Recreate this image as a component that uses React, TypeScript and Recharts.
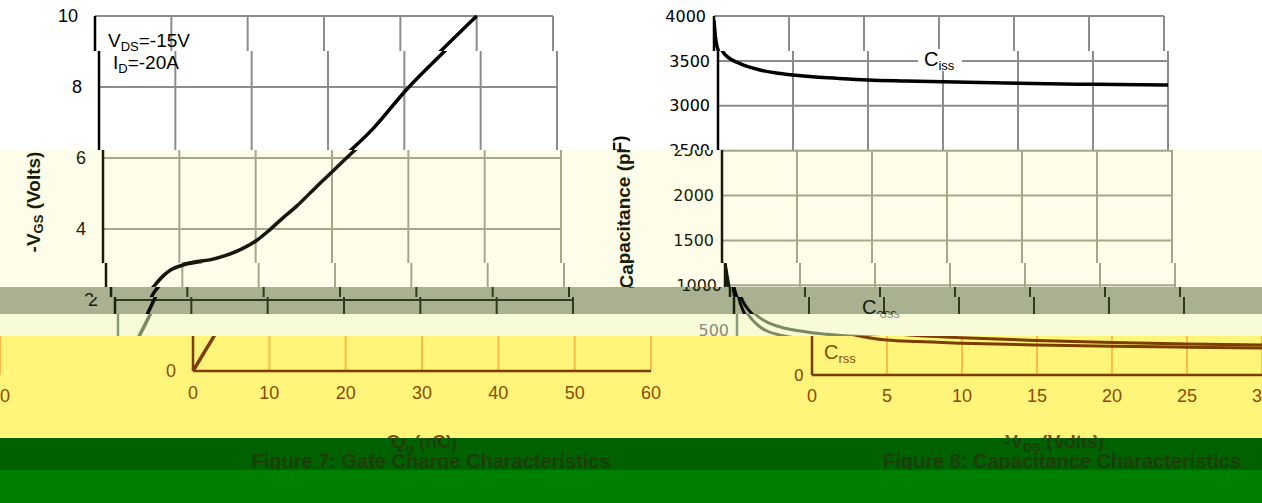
import React from 'react';
import { LineChart, Line, XAxis, YAxis, CartesianGrid } from 'recharts';

// ---- Figure 7: gate charge ----
const qgCharge = [0, 1.4, 2.8, 4.3, 5.6, 6.4, 7.5, 8.5, 10, 12, 14, 16, 18, 20.2, 21.8, 23.5, 25.3, 28, 31.9, 36, 40.3, 45, 50];
const vgsVolts = [0, 0.5, 1.0, 1.63, 2.2, 2.42, 2.68, 2.85, 2.98, 3.07, 3.13, 3.25, 3.42, 3.69, 3.97, 4.3, 4.63, 5.2, 6.0, 6.85, 7.93, 8.95, 10];
const gateXTicks = [0, 10, 20, 30, 40, 50, 60];
const gateYTicks = [0, 2, 4, 6, 8, 10];

// ---- Figure 8: capacitance ----
const cissVds = [0, 0.1, 0.3, 0.75, 1.4, 2, 2.8, 4, 5, 6.5, 8, 10, 12.5, 15, 20, 25, 30];
const cissPf = [3950, 3760, 3610, 3530, 3475, 3435, 3398, 3362, 3342, 3320, 3305, 3288, 3277, 3268, 3250, 3239, 3230];
const cossVds = [0, 0.1, 0.3, 0.6, 1, 1.5, 2, 3, 4, 5, 7, 10, 15, 20, 25, 30];
const cossPf = [1250, 1150, 960, 820, 720, 640, 590, 530, 495, 470, 440, 415, 385, 362, 345, 333];
const crssVds = [0, 0.1, 0.3, 0.6, 1, 1.5, 2, 3, 4, 5, 7, 10, 15, 20, 25, 30];
const crssPf = [1250, 1100, 880, 720, 620, 540, 490, 440, 410, 390, 372, 355, 335, 320, 310, 302];
const capXTicks = [0, 5, 10, 15, 20, 25, 30];
const capYTicks = [0, 500, 1000, 1500, 2000, 2500, 3000, 3500, 4000];

const gateData = qgCharge.map((q, i) => ({ q, v: vgsVolts[i] }));
const cissData = cissVds.map((v, i) => ({ v, c: cissPf[i] }));
const cossData = cossVds.map((v, i) => ({ v, c: cossPf[i] }));
const crssData = crssVds.map((v, i) => ({ v, c: crssPf[i] }));

type Theme = { bg: string; grid: string; axis: string; line: string; tick: string; text: string };

const THEMES: Record<string, Theme> = {
  white: { bg: '#ffffff', grid: '#8c8c8c', axis: '#000000', line: '#000000', tick: '#000000', text: '#000000' },
  cream: { bg: '#fdfde9', grid: '#a4a88b', axis: '#1b1d0c', line: '#15170a', tick: '#1b1d0c', text: '#1b1d0c' },
  olive: { bg: '#a9b191', grid: '#2d3a1f', axis: '#1a2210', line: '#0a0a05', tick: '#141a0b', text: '#141a0b' },
  pale: { bg: '#f7fbd7', grid: '#f7fbd7', axis: '#8a9a7a', line: '#7a8a67', tick: '#8a8a86', text: '#8a9486' },
  yellow: { bg: '#fff57a', grid: '#ffbb48', axis: '#7c3d00', line: '#7c3d00', tick: '#8a4a05', text: '#8a4a05' },
  dkgreen: { bg: '#006100', grid: '#006100', axis: '#006100', line: '#006100', tick: '#1d3d08', text: '#1d3d08' },
  green: { bg: '#008000', grid: '#008000', axis: '#008000', line: '#008000', tick: '#008000', text: '#008000' },
};

const BANDS = [
  { y0: 0, y1: 51, dx: 0, theme: 'white' },
  { y0: 51, y1: 150, dx: 4, theme: 'white' },
  { y0: 150, y1: 263, dx: 8, theme: 'cream' },
  { y0: 263, y1: 287, dx: 11, theme: 'cream' },
  { y0: 287, y1: 297, dx: 16, theme: 'olive' },
  { y0: 297, y1: 314, dx: 20, theme: 'olive' },
  { y0: 314, y1: 336, dx: 23, theme: 'pale' },
  { y0: 336, y1: 438, dx: 98, theme: 'yellow' },
  { y0: 438, y1: 470, dx: 103, theme: 'dkgreen' },
  { y0: 470, y1: 503, dx: 103, theme: 'green' },
];

const SANS = 'Liberation Sans, Arial, sans-serif';
const WIDE = 'DejaVu Sans, sans-serif';

function Figure({ t }: { t: Theme }) {
  const axisLine = { stroke: t.axis, strokeWidth: 2.5 };
  return (
    <div style={{ position: 'absolute', left: 0, top: 0, width: 1262, height: 503 }}>
      <div style={{ position: 'absolute', left: 0, top: 0 }}>
        <LineChart width={620} height={420} data={gateData} margin={{ top: 16, right: 67, bottom: 19, left: 0 }}>
          <CartesianGrid stroke={t.grid} strokeWidth={2} />
          <XAxis
            type="number"
            dataKey="q"
            domain={[0, 60]}
            ticks={gateXTicks}
            interval={0}
            height={30}
            tickLine={false}
            tickSize={0}
            tickMargin={15}
            axisLine={axisLine}
            tick={{ fill: t.tick, fontSize: 18, fontFamily: SANS }}
          />
          <YAxis
            type="number"
            domain={[0, 10]}
            ticks={gateYTicks}
            interval={0}
            width={95}
            tickLine={false}
            tickSize={0}
            tickMargin={17}
            axisLine={axisLine}
            tick={{ fill: t.tick, fontSize: 18, fontFamily: SANS }}
          />
          <Line type="monotone" dataKey="v" stroke={t.line} strokeWidth={3.5} dot={false} isAnimationActive={false} />
        </LineChart>
      </div>
      <div style={{ position: 'absolute', left: 620, top: 0 }}>
        <LineChart width={600} height={420} margin={{ top: 16, right: 56, bottom: 15, left: 0 }}>
          <CartesianGrid stroke={t.grid} strokeWidth={2} />
          <XAxis
            type="number"
            dataKey="v"
            domain={[0, 30]}
            ticks={capXTicks}
            interval={0}
            height={30}
            tickLine={false}
            tickSize={0}
            tickMargin={14}
            axisLine={axisLine}
            allowDataOverflow
            tick={{ fill: t.tick, fontSize: 18, fontFamily: SANS }}
          />
          <YAxis
            type="number"
            domain={[0, 4000]}
            ticks={capYTicks}
            interval={0}
            width={94}
            tickLine={false}
            tickSize={0}
            tickMargin={8}
            axisLine={axisLine}
            allowDataOverflow
            tick={{ fill: t.tick, fontSize: 16, fontFamily: WIDE }}
          />
          <Line data={cissData} type="monotone" dataKey="c" stroke={t.line} strokeWidth={3.5} dot={false} isAnimationActive={false} />
          <Line data={cossData} type="monotone" dataKey="c" stroke={t.line} strokeWidth={3} dot={false} isAnimationActive={false} />
          <Line data={crssData} type="monotone" dataKey="c" stroke={t.line} strokeWidth={3} dot={false} isAnimationActive={false} />
        </LineChart>
      </div>
      <svg width={1262} height={503} style={{ position: 'absolute', left: 0, top: 0 }} fontFamily={SANS}>
        <text x={108} y={46.5} fill={t.text} fontSize={19}>
          V<tspan fontSize={13} dy={4}>DS</tspan><tspan dy={-4}>=-15V</tspan>
        </text>
        <text x={109} y={68.5} fill={t.text} fontSize={19}>
          I<tspan fontSize={13} dy={4}>D</tspan><tspan dy={-4}>=-20A</tspan>
        </text>
        <text transform="translate(32,202) rotate(-90)" textAnchor="middle" fill={t.text} fontSize={19} fontWeight="bold">
          -V<tspan fontSize={13} dy={3}>GS</tspan><tspan dy={-3}> (Volts)</tspan>
        </text>
        <text transform="translate(622,212) rotate(-90)" textAnchor="middle" fill={t.text} fontSize={19} fontWeight="bold">
          Capacitance (pF)
        </text>
        <rect x={914} y={49} width={44} height={22} fill={t.bg} />
        <text x={920} y={66} fill={t.text} fontSize={20}>
          C<tspan fontSize={13} dy={4}>iss</tspan>
        </text>
        <text x={842} y={314} fill={t.text} fontSize={20}>
          C<tspan fontSize={13} dy={4}>oss</tspan>
        </text>
        <text x={726} y={359} fill={t.text} fontSize={20}>
          C<tspan fontSize={13} dy={4}>rss</tspan>
        </text>
        <text x={321} y={448} textAnchor="middle" fill={t.text} fontSize={19} fontWeight="bold">
          Q<tspan fontSize={13} dy={4}>g</tspan><tspan dy={-4}> (nC)</tspan>
        </text>
        <text x={328} y={468} textAnchor="middle" fill={t.text} fontSize={20} fontWeight="bold">
          Figure 7: Gate Charge Characteristics
        </text>
        <text x={951} y={448} textAnchor="middle" fill={t.text} fontSize={19} fontWeight="bold">
          -V<tspan fontSize={13} dy={4}>DS</tspan><tspan dy={-4}> (Volts)</tspan>
        </text>
        <text x={959} y={468} textAnchor="middle" fill={t.text} fontSize={20} fontWeight="bold">
          Figure 8: Capacitance Characteristics
        </text>
      </svg>
    </div>
  );
}

export default function App() {
  return (
    <div style={{ position: 'absolute', left: 0, top: 0, width: 1262, height: 503, overflow: 'hidden', background: '#ffffff' }}>
      {BANDS.map((b, i) => {
        const t = THEMES[b.theme];
        return (
          <div
            key={i}
            style={{ position: 'absolute', left: 0, top: b.y0, width: 1262, height: b.y1 - b.y0, overflow: 'hidden', background: t.bg }}
          >
            <div style={{ position: 'absolute', left: 0, top: -b.y0, width: 1262, height: 503 }}>
              <div style={{ position: 'absolute', left: b.dx, top: 0 }}>
                <Figure t={t} />
              </div>
              <div style={{ position: 'absolute', left: b.dx - 1262, top: 0 }}>
                <Figure t={t} />
              </div>
            </div>
          </div>
        );
      })}
    </div>
  );
}
